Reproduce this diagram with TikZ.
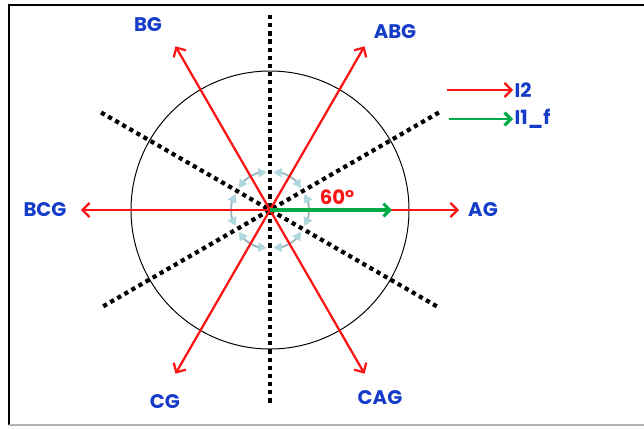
\documentclass[tikz,border=0pt]{standalone}
\usepackage{fontspec}
\setmainfont{Poppins}
\usetikzlibrary{arrows.meta}
\definecolor{lblblue}{RGB}{20,60,200}
\definecolor{vecred}{RGB}{250,20,20}
\definecolor{vecgreen}{RGB}{0,170,70}
\definecolor{rotline}{RGB}{150,180,186}
\definecolor{rottip}{RGB}{175,215,222}
\begin{document}
\begin{tikzpicture}[
        x=0.025cm, y=0.025cm,
        lbl/.style={
            text=lblblue,
            font=\bfseries\fontsize{14}{16}\selectfont,
            inner sep=1pt
        },
        redvec/.style={
            draw=vecred,
            line width=1.6pt,
            -{Straight Barb[length=5pt,width=10pt,line width=1.6pt]}
        },
        greenvec/.style={
            draw=vecgreen,
            line width=2.8pt,
            -{Straight Barb[length=4.5pt,width=9pt,line width=2.2pt]}
        },
        sector/.style={
            draw,
            line width=3pt,
            dash pattern=on 3pt off 2.8pt
        },
        rot/.style={
            draw=rotline,
            line width=1.3pt,
            {Triangle[color=rottip,fill=rottip,length=6pt,width=6.5pt]}-{Triangle[color=rottip,fill=rottip,length=6pt,width=6.5pt]}
        }
    ]
        \useasboundingbox (-270,-218) rectangle (374,210);

        % frame
        \draw[line width=1.6pt] (-261,-215) -- (-261,205) -- (380,205);
        \draw[gray!60, line width=0.8pt] (-261,-215) -- (380,-215);

        \coordinate (o) at (0,0);

        % big circle
        \draw[line width=0.7pt] (o) circle (139);

        % sector boundaries
        \draw[sector] (90:195) -- (270:195);
        \draw[sector] (30:195) -- (210:195);
        \draw[sector] (150:195) -- (330:195);

        % rotation arcs
        \foreach \a in {30,90,150,210,270,330}
            \draw[rot] ([shift={(\a+5:38)}]o) arc (\a+5:\a+55:38);

        % fault type vectors (I2)
        \foreach \a/\n in {0/ag,60/abg,120/bg,180/bcg,240/cg,300/cag}
            \coordinate (\n tip) at (\a:189);
        \draw[redvec] (o) -- (agtip);
        \draw[redvec] (o) -- (abgtip);
        \draw[redvec] (o) -- (bgtip);
        \draw[redvec] (o) -- (bcgtip);
        \draw[redvec] (o) -- (cgtip);
        \draw[redvec] (o) -- (cagtip);

        % reference vector (I1_f)
        \coordinate (ftip) at (122,0);
        \draw[greenvec] (o) -- (ftip);
        \node[text=vecred, font=\bfseries\fontsize{14}{16}\selectfont] (ang) at (67,13) {60°};

        % labels
        \node[lbl] (ag) at (213,0) {AG};
        \node[lbl] (abg) at (125,178) {ABG};
        \node[lbl] (bg) at (-122,185) {BG};
        \node[lbl] (bcg) at (-225,0) {BCG};
        \node[lbl] (cg) at (-105,-192) {CG};
        \node[lbl] (cag) at (110,-188) {CAG};

        % legend
        \node[lbl, anchor=west] (li2) at (243,120) {I2};
        \node[lbl, anchor=west] (li1) at (243,91) {I1\_f};
        \coordinate (li2s) at (177,120);
        \coordinate (li1s) at (179,91);
        \draw[redvec] (li2s) -- (li2.west);
        \draw[greenvec, line width=1.8pt] (li1s) -- (li1.west);
    \end{tikzpicture}
\end{document}
